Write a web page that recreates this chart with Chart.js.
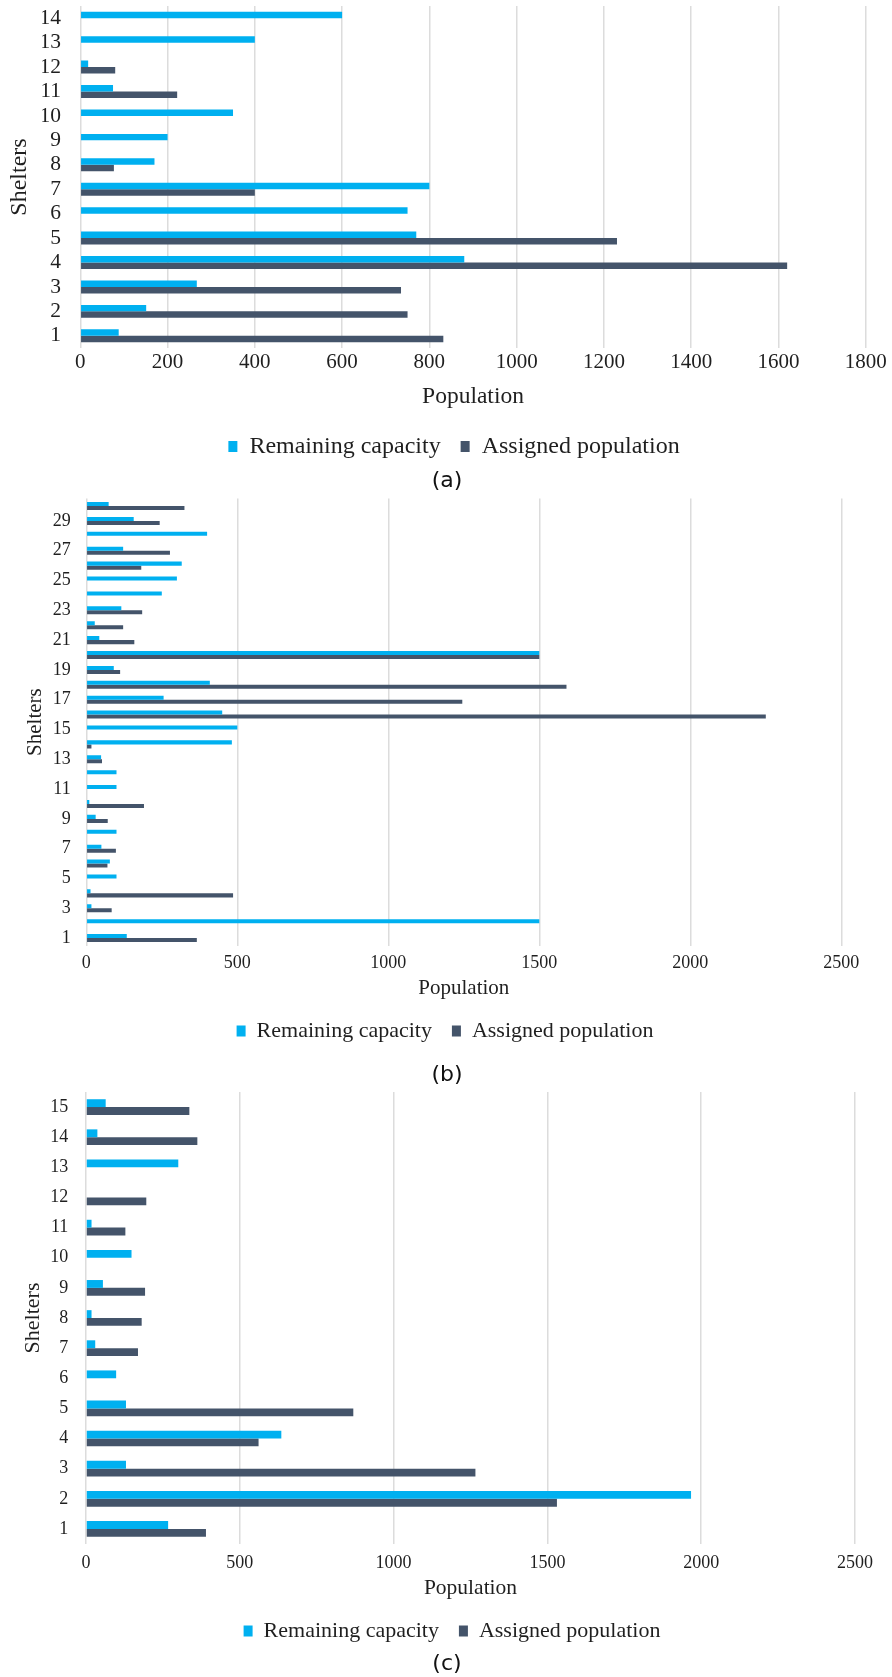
<!DOCTYPE html>
<html>
<head>
<meta charset="utf-8">
<script src="https://cdn.jsdelivr.net/npm/chart.js@4.4.1/dist/chart.umd.min.js"></script>
<style>
  html, body { margin: 0; padding: 0; background: #fff; }
  body { width: 892px; height: 1677px; position: relative; overflow: hidden; }
  canvas { position: absolute; left: 0; }
  .cap { position: absolute; left: 1px; width: 892px; text-align: center;
         font-family: "DejaVu Sans", sans-serif; font-size: 22px; line-height: 26px;
         height: 26px; color: #111; }
</style>
</head>
<body>
<canvas id="chartA" width="892" height="469" style="top:0px"></canvas>
<div class="cap" style="top:467px">(a)</div>
<canvas id="chartB" width="892" height="562" style="top:490px"></canvas>
<div class="cap" style="top:1061px">(b)</div>
<canvas id="chartC" width="892" height="567" style="top:1085px"></canvas>
<div class="cap" style="top:1650px">(c)</div>

<script>
// ---- Panel (a): 14 shelters ----
const sheltersA   = ['1','2','3','4','5','6','7','8','9','10','11','12','13','14'];
const remainingA  = [88, 151, 267, 880, 770, 750, 800, 170, 200, 350, 75, 18, 400, 600];
const assignedA   = [832, 750, 735, 1620, 1230, 0, 400, 77, 0, 0, 222, 80, 0, 0];
const maxA = 1800, stepA = 200;

// ---- Panel (b): 30 shelters ----
const sheltersB   = ['1','2','3','4','5','6','7','8','9','10','11','12','13','14','15',
                     '16','17','18','19','20','21','22','23','24','25','26','27','28','29','30'];
const remainingB  = [134, 1500, 17, 14, 100, 78, 50, 100, 31, 10, 100, 100, 49, 482, 500,
                     450, 256, 409, 91, 1500, 43, 28, 116, 250, 300, 316, 122, 400, 157, 74];
const assignedB   = [366, 0, 84, 486, 0, 70, 98, 0, 71, 191, 0, 0, 52, 17, 0,
                     2250, 1245, 1590, 112, 1500, 159, 122, 185, 0, 0, 182, 277, 0, 243, 325];
const maxB = 2500, stepB = 500;

// ---- Panel (c): 15 shelters ----
const sheltersC   = ['1','2','3','4','5','6','7','8','9','10','11','12','13','14','15'];
const remainingC  = [267, 1967, 130, 635, 130, 98, 30, 18, 55, 148, 18, 0, 300, 37, 64];
const assignedC   = [390, 1531, 1266, 561, 869, 0, 169, 181, 192, 0, 128, 196, 0, 362, 336];
const maxC = 2500, stepC = 500;

const seriesNames = ['Remaining capacity', 'Assigned population'];
const xTitle = 'Population';
const yTitle = 'Shelters';

const CYAN = '#00B0F0';
const SLATE = '#44546A';
const GRID = '#dcdcdc';
const TEXT = '#1f1f1f';
const SERIF = '"Liberation Serif", "Times New Roman", serif';

function buildChart(id, labels, remaining, assigned, max, step, o) {
  return new Chart(document.getElementById(id), {
    type: 'bar',
    data: {
      labels: labels,
      datasets: [
        { label: seriesNames[0], data: remaining, backgroundColor: CYAN, borderWidth: 0,
          categoryPercentage: o.cat, barPercentage: 1 },
        { label: seriesNames[1], data: assigned, backgroundColor: SLATE, borderWidth: 0,
          categoryPercentage: o.cat, barPercentage: 1 }
      ]
    },
    options: {
      indexAxis: 'y',
      responsive: false,
      animation: false,
      devicePixelRatio: 1,
      layout: { padding: { top: o.padT, left: o.padL, right: o.padR, bottom: o.padB } },
      plugins: {
        legend: {
          position: 'bottom',
          labels: { font: { family: SERIF, size: o.legendSize }, color: TEXT,
                    boxWidth: 9, boxHeight: 11, padding: 20 }
        },
        tooltip: { enabled: false }
      },
      scales: {
        x: {
          min: 0, max: max,
          ticks: { stepSize: step, padding: o.xTickPad, maxRotation: 0, color: TEXT,
                   font: { family: SERIF, size: o.xTickSize },
                   callback: function (value) { return String(value); } },
          grid: { color: GRID, lineWidth: 1.5, drawTicks: false },
          border: { display: false },
          title: { display: true, text: xTitle, color: TEXT,
                   font: { family: SERIF, size: o.xTitleSize, lineHeight: 1 },
                   padding: { top: 0, bottom: o.xTitlePadB } },
          afterFit: function (s) { s.height = o.xAxisH; s.paddingLeft = 0; s.paddingRight = 0; }
        },
        y: {
          reverse: true,
          ticks: {
            autoSkip: false, padding: o.yTickPad, color: TEXT,
            font: { family: SERIF, size: o.yTickSize },
            callback: function (value, index) {
              return index % o.labelEvery === 0 ? this.getLabelForValue(value) : '';
            }
          },
          grid: { display: false, drawTicks: false },
          border: { display: false },
          title: { display: true, text: yTitle, color: TEXT,
                   font: { family: SERIF, size: o.yTitleSize, lineHeight: 1 },
                   padding: { top: o.yTitlePad, bottom: 0 } },
          afterFit: function (s) { s.width = o.yAxisW; s.paddingTop = 0; s.paddingBottom = 0; }
        }
      }
    }
  });
}

buildChart('chartA', sheltersA, remainingA, assignedA, maxA, stepA, {
  cat: 0.53, padT: 6, padL: 42.3, padR: 26.3, padB: 0.5,
  yAxisW: 38, xAxisH: 66.5,
  xTickSize: 21, xTickPad: 1.5, xTitleSize: 23.5, xTitlePadB: 6,
  yTickSize: 21.5, yTickPad: 19.3, yTitleSize: 24, yTitlePad: -34.3,
  legendSize: 24, labelEvery: 1
});

buildChart('chartB', sheltersB, remainingB, assignedB, maxB, stepB, {
  cat: 0.54, padT: 8.6, padL: 48.7, padR: 50.7, padB: 0,
  yAxisW: 37.6, xAxisH: 54.5,
  xTickSize: 18, xTickPad: 6.7, xTitleSize: 21, xTitlePadB: 1.5,
  yTickSize: 18, yTickPad: 15.6, yTitleSize: 21, yTitlePad: -24.2,
  legendSize: 22, labelEvery: 2
});

buildChart('chartC', sheltersC, remainingC, assignedC, maxC, stepC, {
  cat: 0.52, padT: 7, padL: 49, padR: 37, padB: 0,
  yAxisW: 37, xAxisH: 56,
  xTickSize: 18, xTickPad: 8.2, xTitleSize: 21.5, xTitlePadB: 0.5,
  yTickSize: 18, yTickPad: 17.7, yTitleSize: 22, yTitlePad: -27,
  legendSize: 22, labelEvery: 1
});
</script>
</body>
</html>
